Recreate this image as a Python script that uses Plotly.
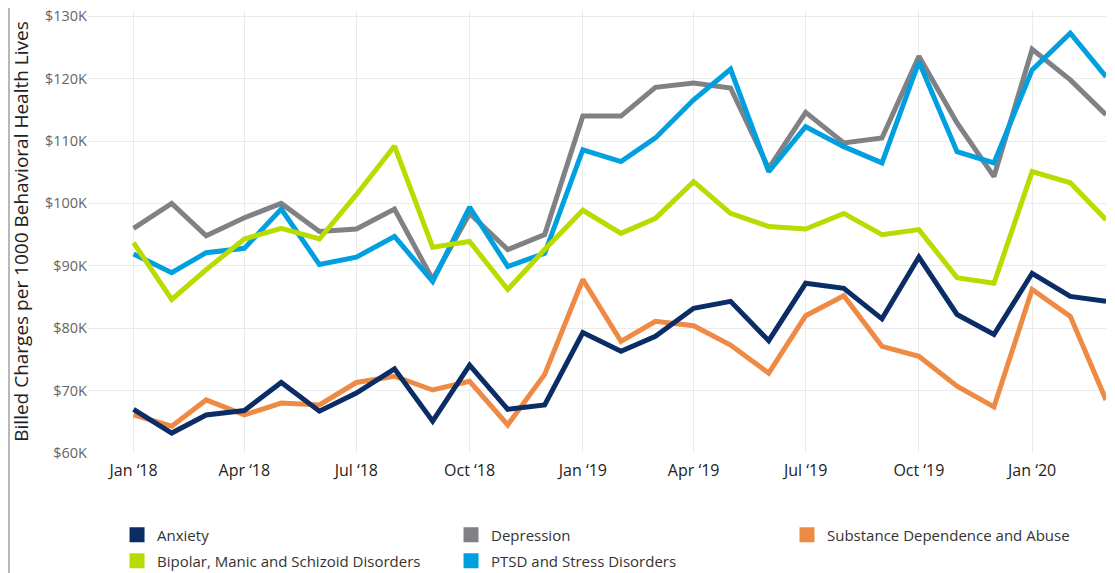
import plotly.graph_objects as go
import pandas as pd

months = pd.date_range("2018-01-01", "2020-03-01", freq="MS")

anxiety = [67.0, 63.2, 66.1, 66.8, 71.3, 66.7, 69.6, 73.5, 65.1, 74.1, 67.0, 67.7,
           79.3, 76.3, 78.7, 83.2, 84.3, 78.0, 87.2, 86.4, 81.5, 91.4, 82.2, 79.0,
           88.8, 85.1, 84.3]
depression = [96.0, 100.0, 94.8, 97.7, 100.0, 95.5, 95.9, 99.1, 87.8, 98.4, 92.6, 95.0,
              114.0, 114.0, 118.6, 119.3, 118.5, 105.6, 114.6, 109.7, 110.5, 123.6, 112.9, 104.3,
              124.7, 119.8, 114.2]
substance = [66.1, 64.3, 68.5, 66.1, 68.0, 67.7, 71.3, 72.3, 70.1, 71.5, 64.5, 72.6,
             87.8, 77.9, 81.1, 80.4, 77.3, 72.8, 82.0, 85.2, 77.1, 75.5, 70.7, 67.4,
             86.2, 81.9, 68.5]
bipolar = [93.7, 84.6, 89.4, 94.3, 96.0, 94.3, 101.4, 109.2, 93.0, 93.9, 86.2, 92.6,
           98.9, 95.2, 97.6, 103.5, 98.4, 96.3, 95.9, 98.4, 95.0, 95.8, 88.1, 87.2,
           105.1, 103.3, 97.4]
ptsd = [91.9, 88.9, 92.1, 92.8, 99.1, 90.2, 91.4, 94.7, 87.5, 99.4, 89.9, 92.0,
        108.6, 106.7, 110.5, 116.6, 121.5, 105.1, 112.3, 109.1, 106.5, 122.7, 108.3, 106.5,
        121.4, 127.3, 120.3]

y_ticks = [60, 70, 80, 90, 100, 110, 120, 130]
y_labels = ["$60K", "$70K", "$80K", "$90K", "$100K", "$110K", "$120K", "$130K"]

series = [
    ("Depression", depression, "#7f8185"),
    ("PTSD and Stress Disorders", ptsd, "#00a0e0"),
    ("Substance Dependence and Abuse", substance, "#ef8a45"),
    ("Anxiety", anxiety, "#0b2d66"),
    ("Bipolar, Manic and Schizoid Disorders", bipolar, "#b9db00"),
]
colors = {n: c for n, _, c in series}

fig = go.Figure()
for name, vals, col in series:
    fig.add_trace(go.Scatter(x=months, y=vals, mode="lines", name=name,
                             line=dict(color=col, width=5), showlegend=False))

# one legend per legend cell: (legend id, entry name, container x, container y)
legend_cells = [
    ("legend", "Anxiety", 0.0985, 0.0673),
    ("legend2", "Depression", 0.4002, 0.0673),
    ("legend3", "Substance Dependence and Abuse", 0.7037, 0.0673),
    ("legend4", "Bipolar, Manic and Schizoid Disorders", 0.0985, 0.0212),
    ("legend5", "PTSD and Stress Disorders", 0.4002, 0.0212),
]
for leg, n, _, _ in legend_cells:
    fig.add_trace(go.Scatter(x=[None], y=[None], mode="markers", name=n,
                             marker=dict(symbol="square", size=15, color=colors[n]),
                             legend=leg, showlegend=True))

legend_layout = {}
for leg, n, lx, ly in legend_cells:
    legend_layout[leg] = dict(
        x=lx, y=ly, xref="container", yref="container",
        xanchor="left", yanchor="middle", orientation="h",
        font=dict(family="Open Sans", size=15, color="#333333"),
        bgcolor="rgba(0,0,0,0)", itemclick=False, itemdoubleclick=False)

# the page body adds an 8px margin, so the figure is 8px smaller than the window
fig.update_layout(
    width=1107, height=565,
    margin=dict(l=80, r=9, t=2, b=120, autoexpand=False),
    paper_bgcolor="white", plot_bgcolor="white",
    showlegend=True,
    xaxis=dict(type="date", range=["2017-11-25", "2020-03-01"],
               dtick="M3", tick0="2018-01-01", tickformat="%b \u2018%y",
               showgrid=True, gridcolor="#ebebeb", gridwidth=1,
               showline=False, zeroline=False, ticks="", ticklabelstandoff=6,
               automargin=False, ticklabeloverflow="allow",
               tickfont=dict(family="Open Sans", size=16, color="#222222")),
    yaxis=dict(range=[60, 131], tickvals=y_ticks, ticktext=y_labels,
               showgrid=True, gridcolor="#ebebeb", gridwidth=1,
               showline=False, zeroline=False, ticks="", automargin=False,
               ticklabeloverflow="allow",
               tickfont=dict(family="Open Sans", size=14.5, color="#666666"),
               title=dict(text="Billed Charges per 1000 Behavioral Health Lives",
                          font=dict(family="Open Sans", size=19, color="#222222"))),
    shapes=[dict(type="line", xref="paper", yref="paper", x0=-0.0776, x1=-0.0776,
                 y0=-0.3, y1=1.01, line=dict(color="#b8b8b8", width=2))],
    **legend_layout,
)

fig.write_html("out.html")
